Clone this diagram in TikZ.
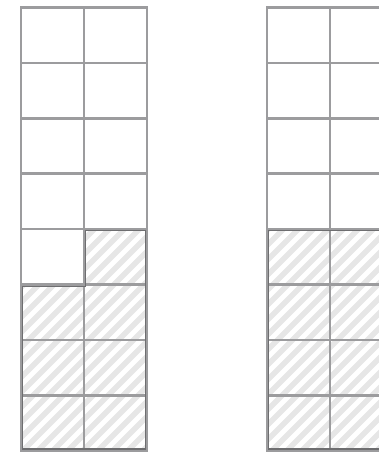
\documentclass[tikz,border=0pt]{standalone}
\usetikzlibrary{positioning}
\definecolor{gridgray}{HTML}{9C9C9E}
\definecolor{hatchgray}{HTML}{E6E6E6}
\definecolor{edgegray}{HTML}{6E6E70}
\tikzset{
  gridline/.style={draw=gridgray, line width=2.7pt},
  hatchline/.style={draw=hatchgray, line width=5.5pt},
  regionline/.style={draw=edgegray, line width=1.2pt, line join=miter},
}
\begin{document}
\begin{tikzpicture}[x=1pt, y=-1pt]
    \useasboundingbox (0,0) rectangle (379,452);

    \begin{scope}[shift={(21,7.5)}]
        \begin{scope}
            \clip (0,277) -- (63,277) -- (63,221.6) -- (126,221.6) -- (126,443.2) -- (0,443.2) -- cycle;
            \foreach \s in {-33,...,9}
                \draw[hatchline] (\s*15,460) -- ++(460,-460);
        \end{scope}
        \foreach \k in {1,...,7}
            \draw[gridline] (0,\k*55.4) -- (126,\k*55.4);
        \draw[gridline] (63,0) -- (63,443.2);
        \draw[gridline] (0,0) rectangle (126,443.2);
        \draw[regionline] (1.7,278.7) -- (64.7,278.7) -- (64.7,223.3) -- (124.3,223.3)
            -- (124.3,441.5) -- (1.7,441.5) -- cycle;
    \end{scope}

    \begin{scope}[shift={(267,7.5)}]
        \begin{scope}
            \clip (0,221.6) rectangle (126,443.2);
            \foreach \s in {-33,...,9}
                \draw[hatchline] (\s*15+3,460) -- ++(460,-460);
        \end{scope}
        \foreach \k in {1,...,7}
            \draw[gridline] (0,\k*55.4) -- (126,\k*55.4);
        \draw[gridline] (63,0) -- (63,443.2);
        \draw[gridline] (0,0) rectangle (126,443.2);
        \draw[regionline] (1.7,223.3) -- (124.3,223.3) -- (124.3,441.5) -- (1.7,441.5) -- cycle;
    \end{scope}
\end{tikzpicture}
\end{document}
